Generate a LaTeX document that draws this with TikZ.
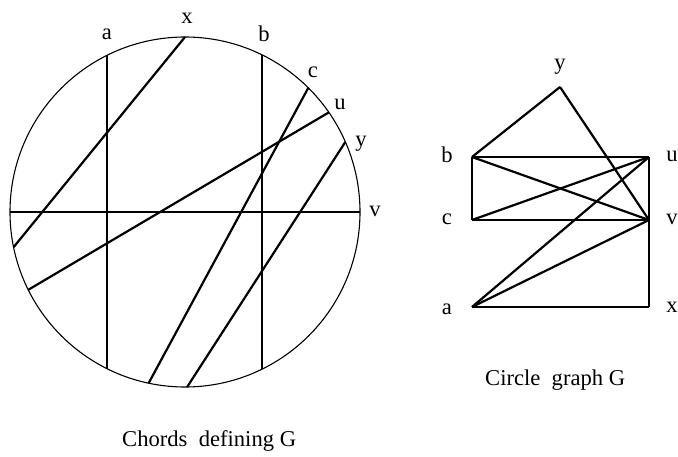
\documentclass[tikz,border=0pt]{standalone}
\usepackage{fontspec}
\setmainfont{Liberation Serif}
\usetikzlibrary{calc}
\begin{document}
\begin{tikzpicture}[x=1pt,y=1pt,
  chord/.style={line width=2.2pt},
  thinchord/.style={line width=1.8pt},
  rim/.style={line width=1.1pt},
  edge/.style={line width=2.2pt},
  rect/.style={line width=1.6pt},
  lbl/.style={font=\fontsize{22.6}{26}\selectfont, anchor=base, inner sep=0pt},
  captext/.style={font=\fontsize{22.6}{26}\selectfont, anchor=base west, inner sep=0pt}]
\useasboundingbox (0,0) rectangle (678,456);
% circle of chords
\coordinate (O) at (185,244);
\draw[rim] (O) circle (175);
\foreach \n/\s/\e in {a/116.4/243.6, b/63.9/-63.9, x/90/191.6, c/45.2/258, u/34.7/206.4, y/23.6/270.7, v/0/180}{
  \coordinate (\n1) at ($(O)+(\s:175)$);
  \coordinate (\n2) at ($(O)+(\e:175)$);
}
\draw[chord] (a1) -- (a2);
\draw[chord] (b1) -- (b2);
\draw[chord] (x1) -- (x2);
\draw[chord] (c1) -- (c2);
\draw[chord] (u1) -- (u2);
\draw[chord] (y1) -- (y2);
\draw[thinchord] (v1) -- (v2);
\node[lbl] (la) at (107,416) {a};
\node[lbl] (lx) at (187,432) {x};
\node[lbl] (lb) at (264,414) {b};
\node[lbl] (lc) at (313,378) {c};
\node[lbl] (lu) at (340,346) {u};
\node[lbl] (ly) at (361,309) {y};
\node[lbl] (lv) at (375,240) {v};
\node[captext] (cap1) at (122,10) {Chords\ \ defining G};
% circle graph
\coordinate (gy) at (560,369);
\coordinate (gb) at (472,299);
\coordinate (gu) at (649,299);
\coordinate (gc) at (472,236);
\coordinate (gv) at (649,236);
\coordinate (ga) at (472,149);
\coordinate (gx) at (649,149);
\draw[rect] (gb) -- (gu);
\draw[rect] (gc) -- (gv);
\draw[rect] (gb) -- (gc);
\draw[rect] (gu) -- (gv);
\draw[rect] (gv) -- (gx);
\draw[rect] (ga) -- (gx);
\draw[edge] (gy) -- (gb);
\draw[edge] (gy) -- (gv);
\draw[edge] (gb) -- (gv);
\draw[edge] (gc) -- (gu);
\draw[edge] (ga) -- (gu);
\draw[edge] (ga) -- (gv);
\node[lbl] (ny) at (560,386) {y};
\node[lbl] (nb) at (447,293) {b};
\node[lbl] (nc) at (447,231) {c};
\node[lbl] (na) at (447,142) {a};
\node[lbl] (nu) at (672,294) {u};
\node[lbl] (nv) at (672,231) {v};
\node[lbl] (nx) at (672,143) {x};
\node[captext] (cap2) at (485,71) {Circle\ \ graph G};
\end{tikzpicture}
\end{document}
